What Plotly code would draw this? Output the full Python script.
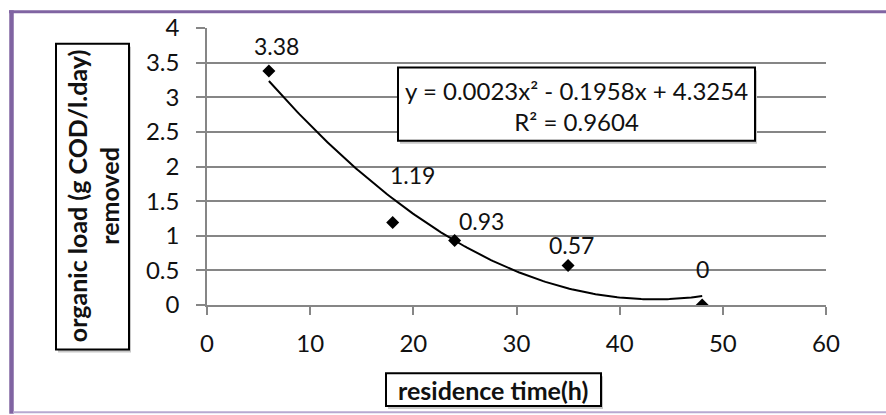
import numpy as np
import plotly.graph_objects as go

# ---- data ----
residence_time = [6, 18, 24, 35, 48]
organic_load_removed = [3.38, 1.19, 0.93, 0.57, 0]
label_texts = ["3.38", "1.19", "0.93", "0.57", "0"]
x_ticks = [0, 10, 20, 30, 40, 50, 60]
y_ticks = [0, 0.5, 1, 1.5, 2, 2.5, 3, 3.5, 4]
y_tick_labels = ["0", "0.5", "1", "1.5", "2", "2.5", "3", "3.5", "4"]
equation_text = "y = 0.0023x² - 0.1958x + 4.3254<br>R² = 0.9604"
x_title = "residence time(h)"
y_title = "organic load (g COD/l.day)<br>removed"

# label offsets in pixels (style)
label_dx = [8, 20, 27, 3, 0]
label_dy = [25, 48, 20, 21, 36]

W, H = 886, 415
L, R, T, B = 207, 826, 25, 305


def pxx(x):
    return (x - L) / (R - L)


def pxy(y):
    return (B - y) / (B - T)


# quadratic trendline (Excel polynomial order 2)
coef = np.polyfit(residence_time, organic_load_removed, 2)
xt = np.linspace(min(residence_time), max(residence_time), 200)
yt = np.polyval(coef, xt)

FONT = "Lato"
GRID = "#868686"

fig = go.Figure()
fig.add_trace(go.Scatter(x=xt, y=yt, mode="lines",
                         line=dict(color="black", width=2), hoverinfo="skip",
                         showlegend=False))
fig.add_trace(go.Scatter(x=residence_time, y=organic_load_removed, mode="markers",
                         marker=dict(symbol="diamond", size=10, color="black"),
                         showlegend=False))

annotations = []
for x, y, t, dx, dy in zip(residence_time, organic_load_removed, label_texts, label_dx, label_dy):
    annotations.append(dict(x=x, y=y, xref="x", yref="y", text=t, showarrow=False,
                            xanchor="center", yanchor="middle", xshift=dx, yshift=dy,
                            font=dict(family=FONT, size=23, color="#111")))

shapes = []


def box(x0, y0, x1, y1):
    # shadow
    shapes.append(dict(type="rect", xref="paper", yref="paper",
                       x0=pxx(x0 + 2), x1=pxx(x1 + 2), y0=pxy(y1 + 3), y1=pxy(y0 + 3),
                       line=dict(width=0), fillcolor="#c8c8c8", layer="above"))
    shapes.append(dict(type="rect", xref="paper", yref="paper",
                       x0=pxx(x0), x1=pxx(x1), y0=pxy(y1), y1=pxy(y0),
                       line=dict(color="black", width=2), fillcolor="white", layer="above"))


box(398, 65, 755, 139)
box(56, 41, 129, 350)
box(386, 374, 601, 407)

# purple frame
shapes.append(dict(type="line", xref="paper", yref="paper", x0=pxx(11.5), x1=pxx(11.5),
                   y0=pxy(7), y1=pxy(415), line=dict(color="#8064A2", width=4.5)))
shapes.append(dict(type="line", xref="paper", yref="paper", x0=pxx(9), x1=pxx(886),
                   y0=pxy(8.7), y1=pxy(8.7), line=dict(color="#8064A2", width=3)))
shapes.append(dict(type="line", xref="paper", yref="paper", x0=pxx(13), x1=pxx(886),
                   y0=pxy(413.5), y1=pxy(413.5), line=dict(color="#B7A9D0", width=2)))

annotations.append(dict(x=pxx(576.5), y=pxy(104), xref="paper", yref="paper",
                        text=equation_text, showarrow=False, xanchor="center", yanchor="middle",
                        font=dict(family=FONT, size=24, color="#111")))
annotations.append(dict(x=pxx(93), y=pxy(195), xref="paper", yref="paper",
                        text="<b>" + y_title.replace("<br>", "</b><br><b>") + "</b>",
                        showarrow=False, textangle=-90, xanchor="center", yanchor="middle",
                        font=dict(family=FONT, size=25, color="#111")))
annotations.append(dict(x=pxx(493), y=pxy(391), xref="paper", yref="paper",
                        text="<b>" + x_title + "</b>", showarrow=False,
                        xanchor="center", yanchor="middle",
                        font=dict(family=FONT, size=25, color="#111")))

fig.update_layout(
    width=W, height=H,
    margin=dict(l=L, r=W - R, t=T, b=H - B, pad=0),
    paper_bgcolor="white", plot_bgcolor="white",
    xaxis=dict(range=[0, 60], tickvals=x_ticks, showgrid=False, zeroline=False,
               showline=True, linecolor=GRID, linewidth=1.5,
               ticks="outside", ticklen=8, tickwidth=1.5, tickcolor=GRID,
               ticklabelstandoff=8,
               tickfont=dict(family=FONT, size=24, color="#111")),
    yaxis=dict(range=[0, 4], tickvals=y_ticks, ticktext=y_tick_labels,
               showgrid=True, gridcolor=GRID, gridwidth=1.5, zeroline=False,
               showline=True, linecolor=GRID, linewidth=1.5,
               ticks="outside", ticklen=9, tickwidth=1.5, tickcolor=GRID,
               ticklabelstandoff=12,
               tickfont=dict(family=FONT, size=24, color="#111")),
    shapes=shapes, annotations=annotations,
)

fig.write_html("out.html", config={"displayModeBar": False},
               post_script="document.body.style.margin='0';document.body.style.overflow='hidden';")
